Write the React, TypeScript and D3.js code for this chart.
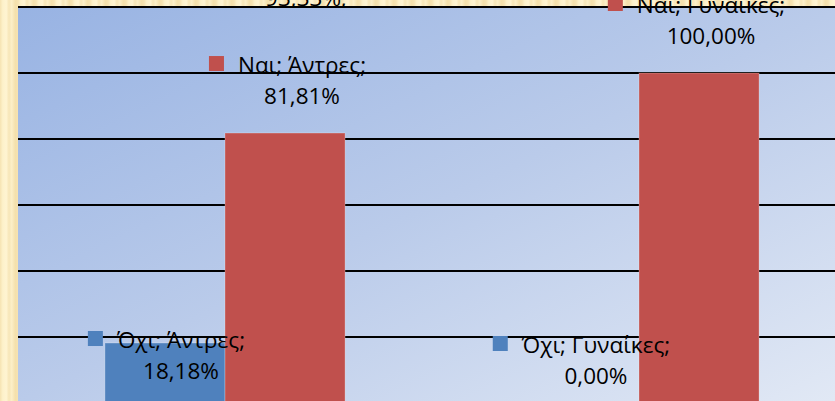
import React, { useEffect, useRef } from 'react';
import * as d3 from 'd3';

const categories = ['Άντρες', 'Γυναίκες'];
const seriesNames = ['Όχι', 'Ναι'];
const oxiValues = [18.18, 0.0];
const naiValues = [81.81, 100.0];
const yTicks = [0, 20, 40, 60, 80, 100, 120];
const hiddenLabel = '93,33%;';

const seriesColors = ['#4F81BD', '#C0504D'];
// label layout per [series][category]
const labelDx = [[16, 17], [17, 12]];
const labelDy = [[36, -19], [-29, -29]];

const W = 835;
const H = 401;
const FONT = "'Open Sans', sans-serif";
const FS = 22.5;

export default function App() {
  const ref = useRef<SVGSVGElement | null>(null);

  useEffect(() => {
    document.body.style.margin = '0';
    const svg = d3.select(ref.current);
    svg.selectAll('*').remove();

    const defs = svg.append('defs');
    const bgGrad = defs.append('linearGradient').attr('id', 'bgStripe')
      .attr('x1', 0).attr('x2', 1).attr('y1', 0).attr('y2', 0)
      .attr('spreadMethod', 'repeat');
    [
      [0, '#F6E3B2'], [0.15, '#FDF1CA'], [0.35, '#FFF4D2'], [0.5, '#F7E6B8'],
      [0.65, '#FCEFC8'], [0.85, '#F4E0AC'], [1, '#F6E3B2'],
    ].forEach(([o, c]) => bgGrad.append('stop').attr('offset', o as number).attr('stop-color', c as string));

    const pat = defs.append('pattern').attr('id', 'bgPat')
      .attr('patternUnits', 'userSpaceOnUse').attr('width', 18).attr('height', 40);
    pat.append('rect').attr('width', 18).attr('height', 40).attr('fill', 'url(#bgStripe)');

    const plotGrad = defs.append('linearGradient').attr('id', 'plotGrad')
      .attr('x1', 0).attr('y1', 0).attr('x2', 1).attr('y2', 1);
    plotGrad.append('stop').attr('offset', 0).attr('stop-color', '#98B3E3');
    plotGrad.append('stop').attr('offset', 0.5).attr('stop-color', '#BACBEA');
    plotGrad.append('stop').attr('offset', 1).attr('stop-color', '#E2E9F5');

    // background
    svg.append('rect').attr('width', W).attr('height', H).attr('fill', 'url(#bgPat)');

    const left = 18, right = 846, top = 7, bottom = 403;

    const y = d3.scaleLinear().domain([0, 120]).range([bottom, top]);
    const x0 = d3.scaleBand<string>().domain(categories).range([left, right]).paddingInner(0).paddingOuter(0);
    const groupW = x0.bandwidth() * 0.58;
    const x1 = d3.scaleBand<string>().domain(seriesNames).range([0, groupW]).padding(0);

    // label hidden behind plot area
    svg.append('text').attr('x', 306).attr('y', 6).attr('text-anchor', 'middle')
      .attr('font-family', FONT).attr('font-size', FS).attr('fill', '#000').text(hiddenLabel);

    // plot area
    svg.append('rect').attr('x', left).attr('y', top).attr('width', right - left).attr('height', bottom - top)
      .attr('fill', 'url(#plotGrad)');

    // gridlines
    svg.append('g').selectAll('line').data(yTicks).join('line')
      .attr('x1', left).attr('x2', right)
      .attr('y1', (d) => y(d)).attr('y2', (d) => y(d))
      .attr('stroke', '#000').attr('stroke-width', 2);

    const allValues = [oxiValues, naiValues];
    const bars: { s: number; c: number; v: number }[] = [];
    seriesNames.forEach((_, s) => categories.forEach((_, c) => bars.push({ s, c, v: allValues[s][c] })));

    const barX = (d: { s: number; c: number }) =>
      (x0(categories[d.c]) as number) + (x0.bandwidth() - groupW) / 2 + (x1(seriesNames[d.s]) as number);

    svg.append('g').selectAll('rect').data(bars).join('rect')
      .attr('x', (d) => barX(d))
      .attr('y', (d) => y(d.v))
      .attr('width', x1.bandwidth())
      .attr('height', (d) => y(0) - y(d.v))
      .attr('fill', (d) => seriesColors[d.s])
      .attr('stroke', 'rgba(255,255,255,0.25)').attr('stroke-width', 1);

    const fmt = (v: number) => d3.format('.2f')(v).replace('.', ',') + '%';

    const lg = svg.append('g').attr('font-family', FONT).attr('font-size', FS).attr('fill', '#000');
    bars.forEach((d) => {
      const cx = barX(d) + x1.bandwidth() / 2 + labelDx[d.s][d.c];
      const b2 = y(d.v) + labelDy[d.s][d.c];
      const b1 = b2 - 31;
      const t1 = lg.append('text').attr('x', cx).attr('y', b1).attr('text-anchor', 'middle')
        .text(`${seriesNames[d.s]}; ${categories[d.c]};`);
      lg.append('text').attr('x', cx).attr('y', b2).attr('text-anchor', 'middle').text(fmt(d.v));
      const w = (t1.node() as SVGTextElement).getComputedTextLength();
      lg.append('rect')
        .attr('x', cx - w / 2 - 14 - 15).attr('y', b1 - 2 - 15)
        .attr('width', 15).attr('height', 15)
        .attr('fill', seriesColors[d.s]);
    });
  }, []);

  return (
    <svg ref={ref} width={W} height={H} style={{ display: 'block', position: 'absolute', left: 0, top: 0 }} />
  );
}
